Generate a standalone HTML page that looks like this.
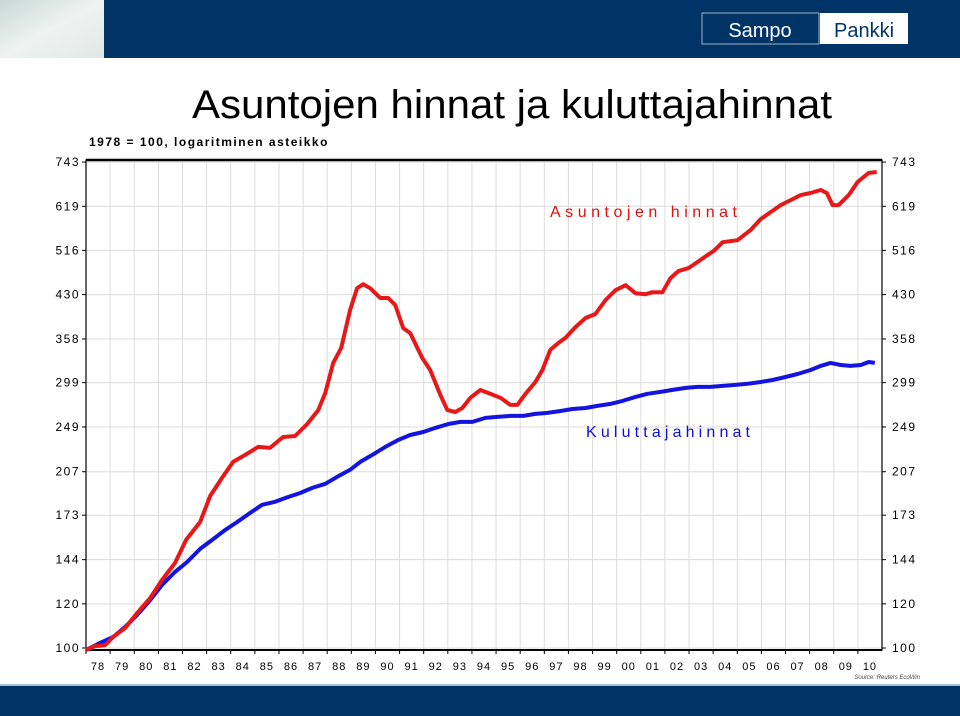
<!DOCTYPE html>
<html><head><meta charset="utf-8"><style>body{margin:0;background:#fff}svg{display:block}</style></head>
<body>
<svg id="c" width="960" height="716" viewBox="0 0 960 716" xmlns="http://www.w3.org/2000/svg" font-family="Liberation Sans, sans-serif">
<defs><linearGradient id="g" x1="0" y1="0" x2="1" y2="1"><stop offset="0" stop-color="#c8d8d4"/><stop offset="0.5" stop-color="#eef3f1"/><stop offset="1" stop-color="#dfe8e6"/></linearGradient></defs>
<rect x="0" y="0" width="104" height="58" fill="url(#g)"/>
<rect x="104" y="0" width="856" height="58" fill="#003366"/>
<rect x="702" y="13" width="117" height="31" fill="#003366" stroke="#9fb3c8" stroke-width="1"/>
<text x="760" y="37" fill="#fff" font-size="20" text-anchor="middle">Sampo</text>
<rect x="820" y="13" width="88" height="31" fill="#fff"/>
<text x="864" y="37" fill="#003366" font-size="20" text-anchor="middle">Pankki</text>
<text x="192" y="118" font-size="40" textLength="640" lengthAdjust="spacingAndGlyphs">Asuntojen hinnat ja kuluttajahinnat</text>
<text x="89" y="146" font-size="12" font-weight="bold" letter-spacing="1.5">1978 = 100, logaritminen asteikko</text>
<g id="grid"></g><g id="axes"></g><g id="series"></g>
<text x="550" y="217" font-size="16" fill="#e01010" textLength="187">Asuntojen hinnat</text>
<text x="586" y="437" font-size="16" fill="#1010d0" textLength="164">Kuluttajahinnat</text>
<text x="920" y="679" font-size="6" font-style="italic" fill="#444" text-anchor="end">Source: Reuters EcoWin</text>
<rect x="0" y="684" width="960" height="2" fill="#a8c0d8"/>
<rect x="0" y="686" width="960" height="30" fill="#003366"/>
</svg>
<script>
const yTicks=[100,120,144,173,207,249,299,358,430,516,619,743];
const yearLabels=["78","79","80","81","82","83","84","85","86","87","88","89","90","91","92","93","94","95","96","97","98","99","00","01","02","03","04","05","06","07","08","09","10"];
const houseT=[1978.0,78.37,78.79,79.12,79.62,80.12,80.66,81.15,81.69,82.15,82.73,83.15,83.64,84.10,84.60,85.14,85.63,86.17,86.67,87.17,87.63,87.92,88.25,88.58,88.95,89.24,89.49,89.78,90.20,90.53,90.82,91.15,91.44,91.94,92.27,92.69,92.98,93.31,93.60,93.93,94.35,94.76,95.18,95.59,95.88,96.22,96.63,96.92,97.25,97.59,97.88,98.29,98.71,99.12,99.54,99.95,100.37,100.78,101.20,101.49,101.90,102.23,102.56,102.98,103.35,103.76,104.02,104.39,105.01,105.55,105.97,106.38,106.80,107.21,107.63,108.04,108.46,108.71,108.95,109.20,109.62,109.99,110.44,110.78];
const houseV=[99.2,100.8,101.2,104.6,108.6,115.5,122.9,132.4,142.0,156.2,168.2,187.3,201.8,215.6,221.9,229.3,228.4,238.9,239.9,252.1,267.1,286.6,324.3,345.1,403.6,441.5,448.8,441.5,423.9,423.9,412.0,374.5,366.8,331.1,315.0,284.3,267.1,264.9,269.3,280.8,290.0,285.5,280.8,272.7,272.7,285.5,299.7,315.0,342.3,352.3,359.7,376.0,390.3,396.8,420.4,437.9,447.0,432.5,430.7,434.3,434.3,460.3,473.8,479.7,491.8,506.1,514.6,533.7,538.2,561.2,587.1,604.4,622.1,635.1,648.4,653.8,662.0,653.8,622.1,622.1,648.4,684.2,710.1,713.0];
const cpiT=[1978.0,78.58,79.12,79.62,80.12,80.66,81.15,81.69,82.19,82.73,83.23,83.77,84.27,84.80,85.30,85.84,86.38,86.88,87.38,87.92,88.41,88.95,89.37,89.87,90.41,90.95,91.44,91.98,92.48,93.02,93.52,94.02,94.56,95.05,95.59,96.13,96.63,97.13,97.67,98.17,98.71,99.20,99.74,100.24,100.78,101.28,101.82,102.32,102.86,103.35,103.89,104.39,104.93,105.43,105.97,106.46,107.00,107.50,108.04,108.46,108.87,109.29,109.70,110.12,110.45,110.70];
const cpiV=[99.2,102.1,104.6,109.1,114.6,121.9,129.7,136.9,142.6,150.5,156.2,162.8,168.2,174.6,180.6,182.8,186.5,189.6,193.6,196.9,202.6,208.6,215.6,221.9,229.3,236.0,240.9,243.9,248.0,252.1,254.2,254.2,258.5,259.5,260.6,260.6,262.8,263.9,266.0,268.2,269.3,271.6,273.8,277.3,281.9,285.5,287.8,290.2,292.6,293.8,293.8,295.0,296.2,297.5,299.7,302.2,306.0,309.8,315.0,320.3,324.3,321.6,320.3,321.6,325.6,324.3];
const NS='http://www.w3.org/2000/svg';
const L=86,R=882,Y100=648,PPL=242.3,YW=(R-L)/33;
function xs(t){const yy=t<1900?1900+t:t;return L+(yy-1978)*YW;}
function ys(v){return Y100-Math.log(v/100)*PPL;}
function mk(tag,attrs,parent){const e=document.createElementNS(NS,tag);for(const k in attrs)e.setAttribute(k,attrs[k]);parent.appendChild(e);return e;}
const gridG=document.getElementById('grid'),axesG=document.getElementById('axes'),seriesG=document.getElementById('series');
const topY=ys(743)-2;
for(let i=1;i<33;i++){const x=L+i*YW;const ln=mk('line',{x1:x,y1:topY,x2:x,y2:Y100+2,stroke:'#dcdcdc','stroke-width':1},gridG);

}
yTicks.forEach(v=>{const y=ys(v);
const g=mk('line',{x1:L,y1:y,x2:R,y2:y,stroke:'#dcdcdc','stroke-width':1},gridG);


mk('line',{x1:L-4,y1:y,x2:L,y2:y,stroke:'#000'},axesG);
mk('line',{x1:R,y1:y,x2:R+4,y2:y,stroke:'#000'},axesG);
const a=mk('text',{x:L-6,y:y+4,'font-size':12,'text-anchor':'end','letter-spacing':1.5},axesG);a.textContent=v;


const b=mk('text',{x:R+10,y:y+4,'font-size':12,'letter-spacing':1.5},axesG);b.textContent=v;

});
const fr=mk('rect',{x:L,y:topY,width:R-L,height:Y100+2-topY,fill:'none',stroke:'#000','stroke-width':1.2},axesG);


mk('line',{x1:L,y1:topY,x2:R,y2:topY,stroke:'#000','stroke-width':2.5},axesG);
mk('line',{x1:L,y1:Y100+2,x2:R,y2:Y100+2,stroke:'#000','stroke-width':2},axesG);
yearLabels.forEach((s,i)=>{const x=L+(i+0.5)*YW;
mk('line',{x1:L+i*YW,y1:Y100+2,x2:L+i*YW,y2:Y100+6,stroke:'#000'},axesG);
const t=mk('text',{x:x,y:Y100+22,'font-size':11,'text-anchor':'middle','letter-spacing':1},axesG);t.textContent=s;

});
function drawLine(T,V,color,name){const d=T.map((t,i)=>(i?'L':'M')+xs(t).toFixed(1)+','+ys(V[i]).toFixed(1)).join('');
const p=mk('path',{d:d,fill:'none',stroke:color,'stroke-width':4,'stroke-linejoin':'round'},seriesG);

}
drawLine(cpiT,cpiV,'#1414e0','series-kuluttajahinnat');
drawLine(houseT,houseV,'#e81818','series-asuntojen-hinnat');
</script>
</body></html>
